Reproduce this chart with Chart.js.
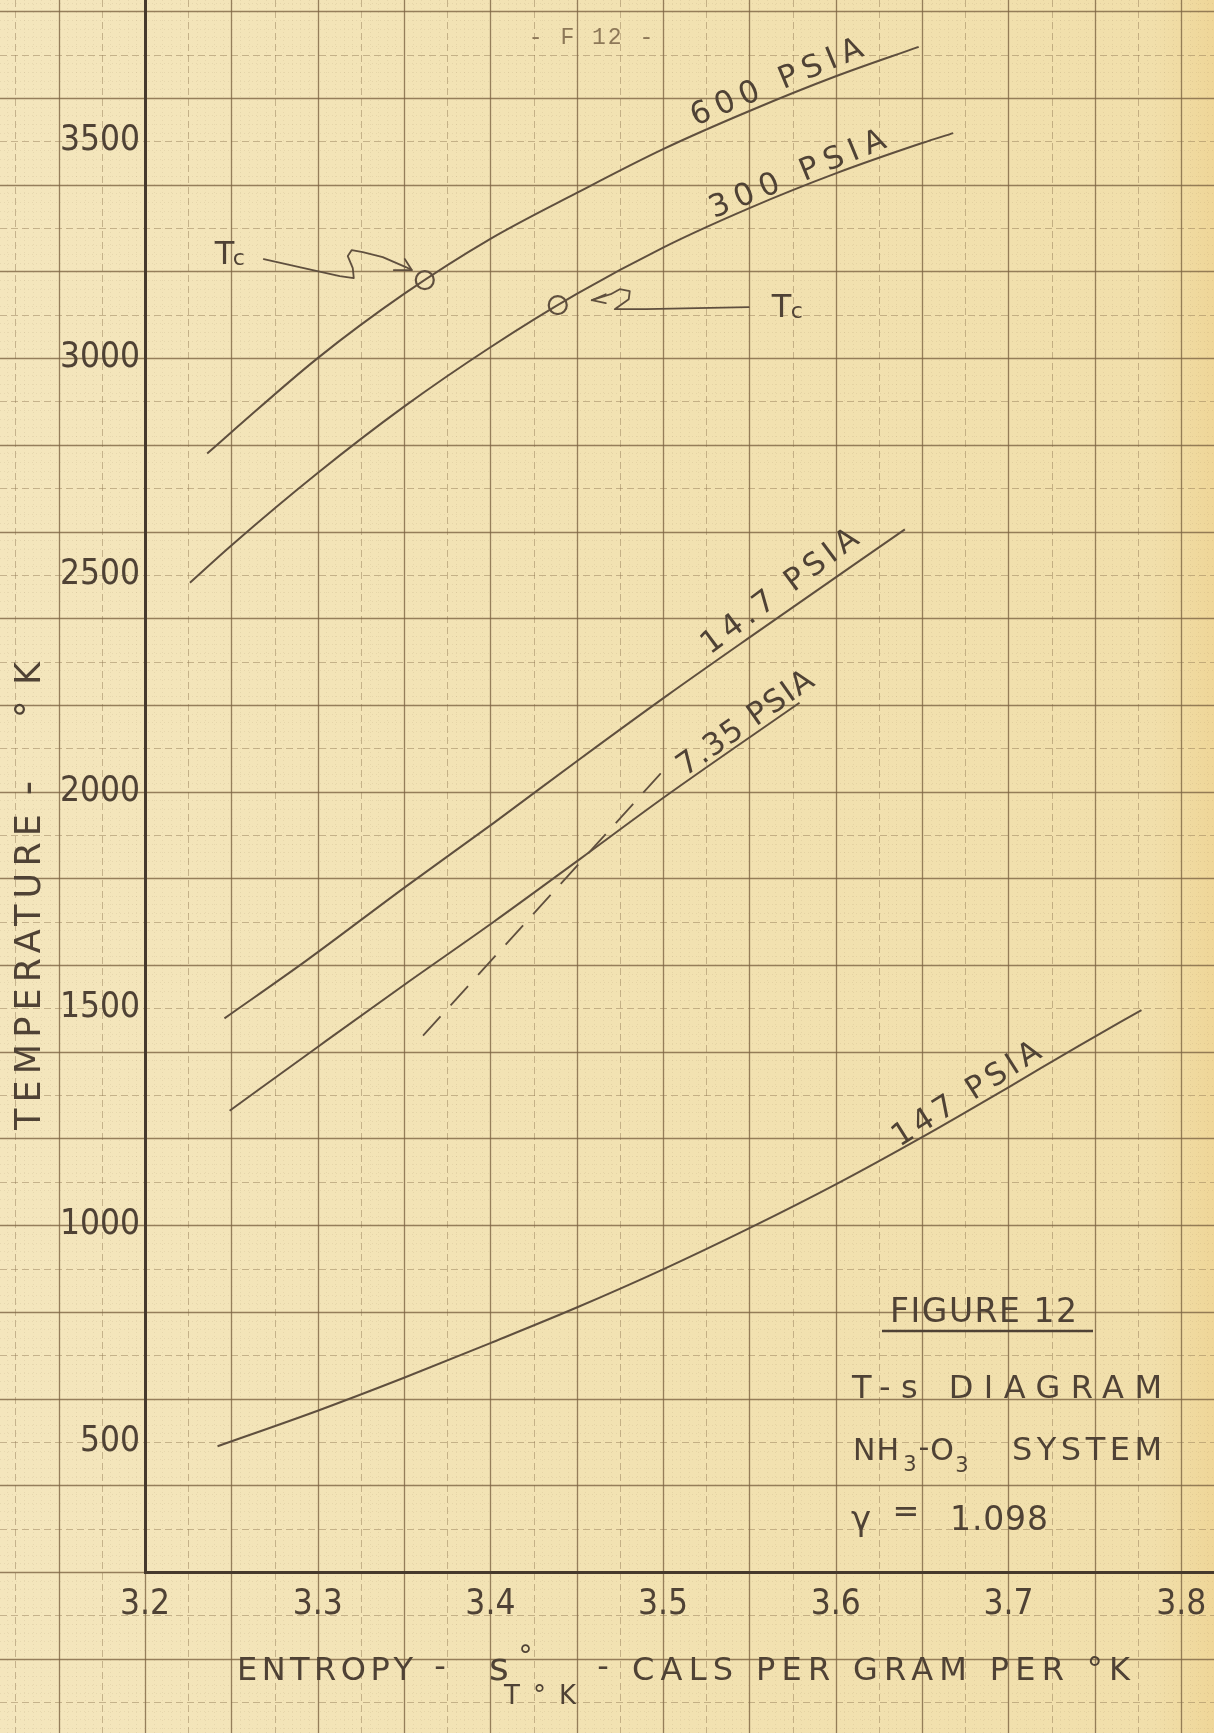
<!DOCTYPE html>
<html>
<head>
<meta charset="utf-8">
<title>Figure 12 - T-s diagram, NH3-O3 system</title>
<script src="https://cdn.jsdelivr.net/npm/chart.js@4.4.1/dist/chart.umd.min.js"></script>
<style>
  html, body { margin: 0; padding: 0; background: #f1e2b3; }
  canvas { display: block; }
</style>
</head>
<body>
<canvas id="ts-chart" width="1214" height="1733"></canvas>
<script>
// Values: entropy (cal / g / K) against temperature (K)
const s600 = [3.236, 3.25, 3.30, 3.35, 3.40, 3.45, 3.50, 3.55, 3.60, 3.648];
const t600 = [2780, 2829, 3000, 3148, 3275, 3381, 3482, 3570, 3650, 3718];

const s300 = [3.226, 3.25, 3.30, 3.35, 3.40, 3.45, 3.50, 3.55, 3.60, 3.65, 3.668];
const t300 = [2482, 2568, 2735, 2888, 3025, 3148, 3255, 3346, 3426, 3496, 3519];

const s14_7 = [3.246, 3.294, 3.351, 3.402, 3.452, 3.502, 3.553, 3.640];
const t14_7 = [1477, 1612, 1781, 1928, 2076, 2221, 2364, 2605];

const s7_35 = [3.249, 3.301, 3.351, 3.402, 3.452, 3.502, 3.579];
const t7_35 = [1264, 1414, 1557, 1700, 1845, 1991, 2205];

const sDashed = [3.361, 3.500];
const tDashed = [1437, 2048];

const s147 = [3.242, 3.30, 3.35, 3.40, 3.45, 3.50, 3.55, 3.60, 3.65, 3.70, 3.74, 3.777];
const t147 = [490, 572, 648, 728, 810, 898, 993, 1094, 1203, 1318, 1412, 1496];

// circled critical temperatures (600 and 300 psia)
const sTc = [3.362, 3.439];
const tTc = [3180, 3122];

const xTicks = [3.2, 3.3, 3.4, 3.5, 3.6, 3.7, 3.8];
const yTicks = [500, 1000, 1500, 2000, 2500, 3000, 3500];

// curve labels: text, anchor (s, T), slant in degrees, length along the curve
const curveLabels = [
  { text: '600 PSIA', s: 3.566, t: 3634, angle: -22.5, len: 184 },
  { text: '300 PSIA', s: 3.578, t: 3422, angle: -22.3, len: 188 },
  { text: '14.7 PSIA', s: 3.568, t: 2460, angle: -36.8, len: 188 },
  { text: '7.35 PSIA', s: 3.548, t: 2156, angle: -35.2, len: 160 },
  { text: '147 PSIA', s: 3.676, t: 1300, angle: -32.3, len: 170 }
];

// Styles
const ink = '#4f4235';
const lineInk = '#5f4f3e';
const axisInk = '#46392c';
const handFont = '"DejaVu Sans", "Liberation Sans", sans-serif';
const tickFont = '"DejaVu Sans Condensed", "Liberation Sans", sans-serif';

function pts(xs, ys) {
  return xs.map((v, i) => ({ x: v, y: ys[i] }));
}

function curve(label, xs, ys, extra) {
  return Object.assign({
    label,
    data: pts(xs, ys),
    borderColor: lineInk,
    borderWidth: 2,
    pointRadius: 0,
    fill: false,
    cubicInterpolationMode: 'monotone'
  }, extra || {});
}

// Hand lettering is widely spaced: stretch a string to a given length
function handText(ctx, text, cx, cy, len, size, angle, baseline) {
  ctx.save();
  ctx.translate(cx, cy);
  ctx.rotate((angle || 0) * Math.PI / 180);
  ctx.font = `${size}px ${handFont}`;
  ctx.letterSpacing = '0px';
  const w = ctx.measureText(text).width;
  let width = w;
  if (len && text.length > 1) {
    ctx.letterSpacing = ((len - w) / (text.length - 1)).toFixed(2) + 'px';
    width = len;
  }
  ctx.textAlign = 'left';
  ctx.textBaseline = baseline || 'middle';
  ctx.fillStyle = ink;
  ctx.fillText(text, -width / 2, 0);
  ctx.restore();
}

// same, given left and right ends on a baseline
function spanText(ctx, text, x0, x1, y, size) {
  handText(ctx, text, (x0 + x1) / 2, y, x1 - x0, size, 0, 'alphabetic');
}

function polyline(ctx, list, ox, oy) {
  ctx.beginPath();
  list.forEach((p, i) => {
    if (i === 0) ctx.moveTo(ox + p[0], oy + p[1]);
    else ctx.lineTo(ox + p[0], oy + p[1]);
  });
  ctx.stroke();
}

// no automatic edge padding: the axes run to the canvas edges
function fixBox(scale) {
  scale.paddingTop = 0;
  scale.paddingBottom = 0;
  scale.paddingLeft = 0;
  scale.paddingRight = 0;
}

// Graph paper behind everything
const paperPlugin = {
  id: 'paper',
  beforeDraw(chart) {
    const { ctx, width, height } = chart;
    const xs = chart.scales.x;
    const ys = chart.scales.y;
    ctx.save();
    const g = ctx.createLinearGradient(0, 0, width, 0);
    g.addColorStop(0, '#f4e6bd');
    g.addColorStop(0.5, '#f2e2b2');
    g.addColorStop(0.95, '#f1dfab');
    g.addColorStop(1, '#efd698');
    ctx.fillStyle = g;
    ctx.fillRect(0, 0, width, height);

    const xl = xs.getValueForPixel(0);
    const xr = xs.getValueForPixel(width);
    const yb = ys.getValueForPixel(height);
    const yt = ys.getValueForPixel(0);

    // faint dotted tenths
    ctx.strokeStyle = 'rgba(140, 115, 80, 0.12)';
    ctx.lineWidth = 1;
    ctx.setLineDash([1, 3]);
    for (let k = Math.floor((xl - 3.2) / 0.005); 3.2 + k * 0.005 <= xr; k++) {
      if (k % 5 === 0) continue;
      const p = Math.round(xs.getPixelForValue(3.2 + k * 0.005)) + 0.5;
      ctx.beginPath(); ctx.moveTo(p, 0); ctx.lineTo(p, height); ctx.stroke();
    }
    for (let k = Math.floor((yb - 200) / 20); 200 + k * 20 <= yt; k++) {
      if (k % 5 === 0) continue;
      const p = Math.round(ys.getPixelForValue(200 + k * 20)) + 0.5;
      ctx.beginPath(); ctx.moveTo(0, p); ctx.lineTo(width, p); ctx.stroke();
    }

    // half-inch rulings: solid, with dashed lines half way
    const rule = (major) => {
      ctx.setLineDash(major ? [] : [7, 4]);
      ctx.strokeStyle = major ? 'rgba(125, 100, 68, 0.8)' : 'rgba(140, 115, 80, 0.45)';
      ctx.lineWidth = major ? 1.3 : 1;
    };
    for (let k = Math.floor((xl - 3.2) / 0.025); 3.2 + k * 0.025 <= xr; k++) {
      const p = Math.round(xs.getPixelForValue(3.2 + k * 0.025)) + 0.5;
      rule(((k % 2) + 2) % 2 === 0);
      ctx.beginPath(); ctx.moveTo(p, 0); ctx.lineTo(p, height); ctx.stroke();
    }
    for (let k = Math.floor((yb - 200) / 100); 200 + k * 100 <= yt; k++) {
      const p = Math.round(ys.getPixelForValue(200 + k * 100)) + 0.5;
      rule(((k % 2) + 2) % 2 === 0);
      ctx.beginPath(); ctx.moveTo(0, p); ctx.lineTo(width, p); ctx.stroke();
    }
    ctx.restore();
  }
};

// Lettering, Tc arrows and the title block
const notesPlugin = {
  id: 'notes',
  afterDraw(chart) {
    const { ctx } = chart;
    const xs = chart.scales.x;
    const ys = chart.scales.y;

    curveLabels.forEach(l => {
      handText(ctx, l.text, xs.getPixelForValue(l.s), ys.getPixelForValue(l.t), l.len, 31, l.angle);
    });

    ctx.save();
    ctx.strokeStyle = lineInk;
    ctx.lineWidth = 1.8;
    ctx.lineJoin = 'round';
    ctx.lineCap = 'round';

    // Tc arrow to the 600 psia point
    const c1x = xs.getPixelForValue(sTc[0]);
    const c1y = ys.getPixelForValue(tTc[0]);
    polyline(ctx, [[-161, -21], [-112, -10], [-85, -4], [-71, -2], [-72, -12], [-77, -24],
      [-73, -30], [-62, -28], [-42, -23], [-19, -13], [-13, -10]], c1x, c1y);
    polyline(ctx, [[-20, -21], [-13, -10], [-31, -10]], c1x, c1y);

    // Tc arrow to the 300 psia point
    const c2x = xs.getPixelForValue(sTc[1]);
    const c2y = ys.getPixelForValue(tTc[1]);
    polyline(ctx, [[48, -11], [34, -5], [48, -2]], c2x, c2y);
    polyline(ctx, [[34, -5], [53, -11], [62, -16], [72, -14], [71, -6], [57, 4], [88, 4], [191, 2]], c2x, c2y);
    ctx.restore();

    ctx.save();
    ctx.fillStyle = ink;
    ctx.textBaseline = 'alphabetic';
    ctx.textAlign = 'left';
    ctx.font = `32px ${handFont}`;
    ctx.fillText('T', c1x - 210, c1y - 16);
    ctx.fillText('T', c2x + 214, c2y + 12);
    ctx.font = `22px ${handFont}`;
    ctx.fillText('c', c1x - 192, c1y - 15);
    ctx.fillText('c', c2x + 233, c2y + 13);
    ctx.restore();

    // axis titles
    ctx.save();
    ctx.translate(31, 0);
    ctx.rotate(-Math.PI / 2);
    handText(ctx, 'TEMPERATURE', -972, 0, 316, 35, 0, 'middle');
    handText(ctx, '-', -788, 0, 0, 40, 0, 'middle');
    handText(ctx, '°K', -690, 0, 56, 35, 0, 'middle');
    ctx.restore();

    const by = 1680;
    spanText(ctx, 'ENTROPY', 237, 413, by, 32);
    handText(ctx, '-', 440, by - 11, 0, 32, 0, 'middle');
    spanText(ctx, 's', 486, 512, by, 38);
    spanText(ctx, '°', 518, 533, by - 15, 28);
    spanText(ctx, 'T°K', 504, 576, by + 24, 26);
    handText(ctx, '-', 603, by - 11, 0, 32, 0, 'middle');
    spanText(ctx, 'CALS PER GRAM PER °K', 632, 1130, by, 32);

    // title block
    spanText(ctx, 'FIGURE 12', 890, 1077, 1322, 33);
    ctx.save();
    ctx.strokeStyle = ink;
    ctx.lineWidth = 2.5;
    ctx.beginPath(); ctx.moveTo(882, 1331); ctx.lineTo(1093, 1331); ctx.stroke();
    ctx.restore();
    spanText(ctx, 'T-s DIAGRAM', 852, 1162, 1398, 32);
    spanText(ctx, 'NH', 853, 899, 1460, 30);
    spanText(ctx, '3', 903, 917, 1471, 21);
    handText(ctx, '-', 924, 1449, 0, 30, 0, 'middle');
    handText(ctx, 'O', 942, 1460, 0, 30, 0, 'alphabetic');
    spanText(ctx, '3', 955, 969, 1472, 21);
    spanText(ctx, 'SYSTEM', 1012, 1162, 1460, 32);
    spanText(ctx, 'γ', 850, 872, 1530, 34);
    spanText(ctx, '=', 897, 915, 1522, 32);
    spanText(ctx, '1.098', 950, 1048, 1530, 33);

    // page mark
    ctx.save();
    ctx.font = '23px "Liberation Mono", "DejaVu Sans Mono", monospace';
    ctx.letterSpacing = '2px';
    ctx.fillStyle = '#8d7858';
    ctx.textAlign = 'center';
    ctx.textBaseline = 'middle';
    ctx.fillText('- F 12 -', 592, 38);
    ctx.restore();
  }
};

const chart = new Chart(document.getElementById('ts-chart'), {
  type: 'line',
  data: {
    datasets: [
      curve('600 PSIA', s600, t600),
      curve('300 PSIA', s300, t300),
      curve('14.7 PSIA', s14_7, t14_7),
      curve('7.35 PSIA', s7_35, t7_35),
      curve('7.35 PSIA (dashed)', sDashed, tDashed, { borderDash: [26, 15], borderWidth: 1.8 }),
      curve('147 PSIA', s147, t147),
      {
        label: 'Tc',
        data: pts(sTc, tTc),
        showLine: false,
        pointRadius: 9,
        pointBorderWidth: 2.2,
        pointBorderColor: lineInk,
        pointBackgroundColor: 'rgba(0, 0, 0, 0)'
      }
    ]
  },
  options: {
    responsive: false,
    animation: false,
    devicePixelRatio: 1,
    layout: { padding: 0, autoPadding: false },
    plugins: {
      legend: { display: false },
      tooltip: { enabled: false }
    },
    scales: {
      x: {
        type: 'linear',
        position: 'bottom',
        min: 3.2,
        max: 3.819,
        afterFit: (scale) => { scale.height = 161; fixBox(scale); },
        afterBuildTicks: (scale) => { scale.ticks = xTicks.map(v => ({ value: v })); },
        grid: { display: false, drawTicks: false },
        border: { display: true, color: axisInk, width: 3 },
        ticks: {
          color: ink,
          font: { family: tickFont, size: 35 },
          padding: 12,
          maxRotation: 0,
          minRotation: 0,
          autoSkip: false,
          callback: (v) => Number(v).toFixed(1)
        }
      },
      y: {
        type: 'linear',
        position: 'left',
        min: 200,
        max: 3826,
        afterFit: (scale) => { scale.width = 145; fixBox(scale); },
        afterBuildTicks: (scale) => { scale.ticks = yTicks.map(v => ({ value: v })); },
        grid: { display: false, drawTicks: false },
        border: { display: true, color: axisInk, width: 3 },
        ticks: {
          color: ink,
          font: { family: tickFont, size: 35 },
          padding: 5,
          autoSkip: false,
          callback: (v) => String(v)
        }
      }
    }
  },
  plugins: [paperPlugin, notesPlugin]
});
</script>
</body>
</html>
